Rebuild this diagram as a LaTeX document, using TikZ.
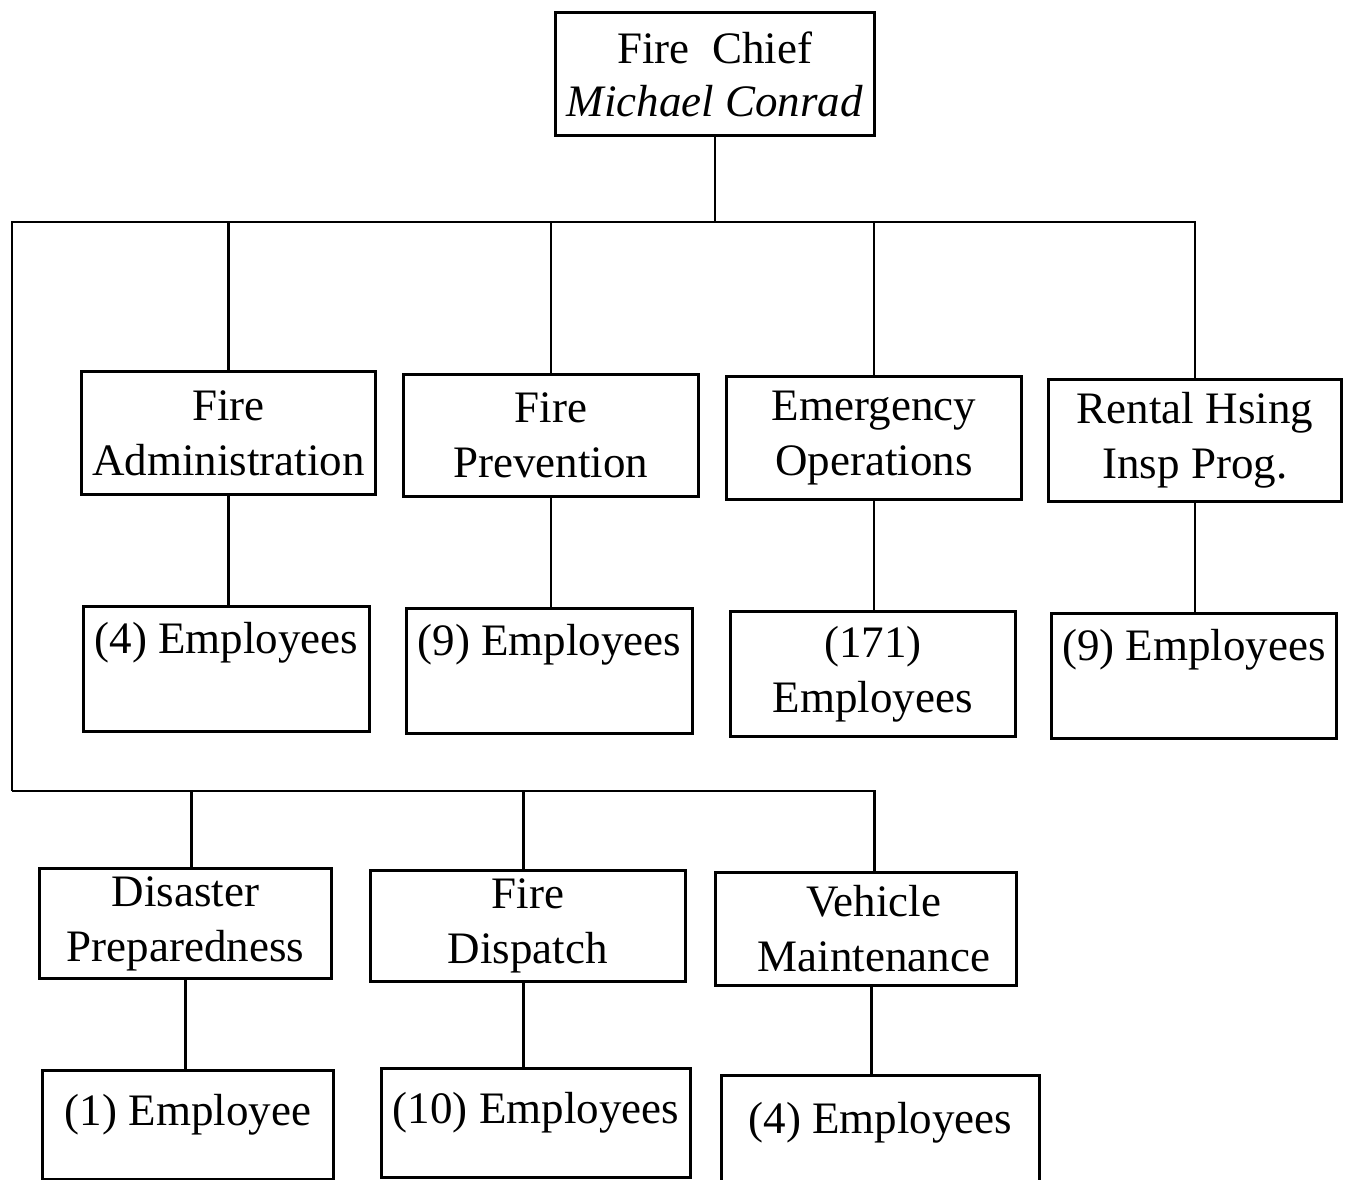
\documentclass[tikz,border=0pt]{standalone}
\usepackage{fontspec}
\setmainfont{Liberation Serif}
\begin{document}
\begin{tikzpicture}[x=1pt,y=-1pt,
  box/.style={draw,line width=2.8pt,rectangle,anchor=north west,inner sep=0pt,align=center,
    font=\fontsize{45}{55}\selectfont},
  etext/.style={anchor=center,font=\fontsize{45}{55}\selectfont,inner sep=0pt},
  conn/.style={line width=2.8pt}]
\useasboundingbox (0,0) rectangle (1345,1180);
\fill[white] (0,0) rectangle (1345,1180);
\clip (0,0) rectangle (1345,1180);
% chief
\node[box,minimum width=319pt,minimum height=123pt] (chief) at (554,11)
  {Fire\ \ Chief\\[-2pt]\textit{Michael Conrad}};
% row 1
\node[box,minimum width=294pt,minimum height=123pt] (admin) at (80,370) {Fire\\Administration};
\node[box,minimum width=295pt,minimum height=122pt] (prev) at (402,373) {Fire\\Prevention};
\node[box,minimum width=295pt,minimum height=123pt] (emer) at (725,375) {Emergency\\Operations};
\node[box,minimum width=293pt,minimum height=122pt] (rent) at (1047,378) {Rental Hsing\\Insp Prog.};
% row 2
\node[box,minimum width=286pt,minimum height=125pt,label={[etext,yshift=-38pt]north:(4) Employees}] (e1) at (82,605) {};
\node[box,minimum width=286pt,minimum height=125pt,label={[etext,yshift=-38pt]north:(9) Employees}] (e2) at (405,607) {};
\node[box,minimum width=285pt,minimum height=125pt] (e3) at (729,610) {(171)\\Employees};
\node[box,minimum width=285pt,minimum height=125pt,label={[etext,yshift=-38pt]north:(9) Employees}] (e4) at (1050,612) {};
% row 3
\node[box,minimum width=292pt,minimum height=110pt] (dis) at (38,867) {Disaster\\Preparedness};
\node[box,minimum width=315pt,minimum height=111pt] (disp) at (369,869) {Fire\\Dispatch};
\node[box,minimum width=301pt,minimum height=113pt] (veh) at (714,871) {\hspace*{16pt}Vehicle\\\hspace*{16pt}Maintenance};
% row 4
\node[box,minimum width=291pt,minimum height=109pt,label={[etext,yshift=-46pt]north:(1) Employee}] (e5) at (41,1069) {};
\node[box,minimum width=309pt,minimum height=109pt,label={[etext,yshift=-46pt]north:(10) Employees}] (e6) at (380,1067) {};
\node[box,minimum width=318pt,minimum height=130pt,label={[etext,yshift=-49pt]north:(4) Employees}] (e7) at (720,1074) {};
% shifted attachment points
\coordinate (vt) at ([xshift=8.5pt]veh.north);
\coordinate (vb) at ([xshift=5.5pt]veh.south);
\coordinate (dt) at ([xshift=6pt]dis.north);
\coordinate (pt) at ([xshift=-4.5pt]disp.north);
\coordinate (pb) at ([xshift=-4.5pt]disp.south);
% buses
\coordinate (tl) at (12,222);
\coordinate (bl) at (12,791);
\draw[conn] (chief.south) -- (chief.south |- tl);
\draw[conn] (bl) -- (tl) -- (tl -| rent.north) -- (rent.north);
\draw[conn] (admin.north) -- (admin.north |- tl);
\draw[conn] (prev.north) -- (prev.north |- tl);
\draw[conn] (emer.north) -- (emer.north |- tl);
\draw[conn] (bl) -- (bl -| vt) -- (vt);
\draw[conn] (dt) -- (dt |- bl);
\draw[conn] (pt) -- (pt |- bl);
% down connectors
\draw[conn] (admin.south) -- (admin.south |- e1.north);
\draw[conn] (prev.south) -- (prev.south |- e2.north);
\draw[conn] (emer.south) -- (emer.south |- e3.north);
\draw[conn] (rent.south) -- (rent.south |- e4.north);
\draw[conn] (dis.south) -- (dis.south |- e5.north);
\draw[conn] (pb) -- (pb |- e6.north);
\draw[conn] (vb) -- (vb |- e7.north);
\end{tikzpicture}
\end{document}
